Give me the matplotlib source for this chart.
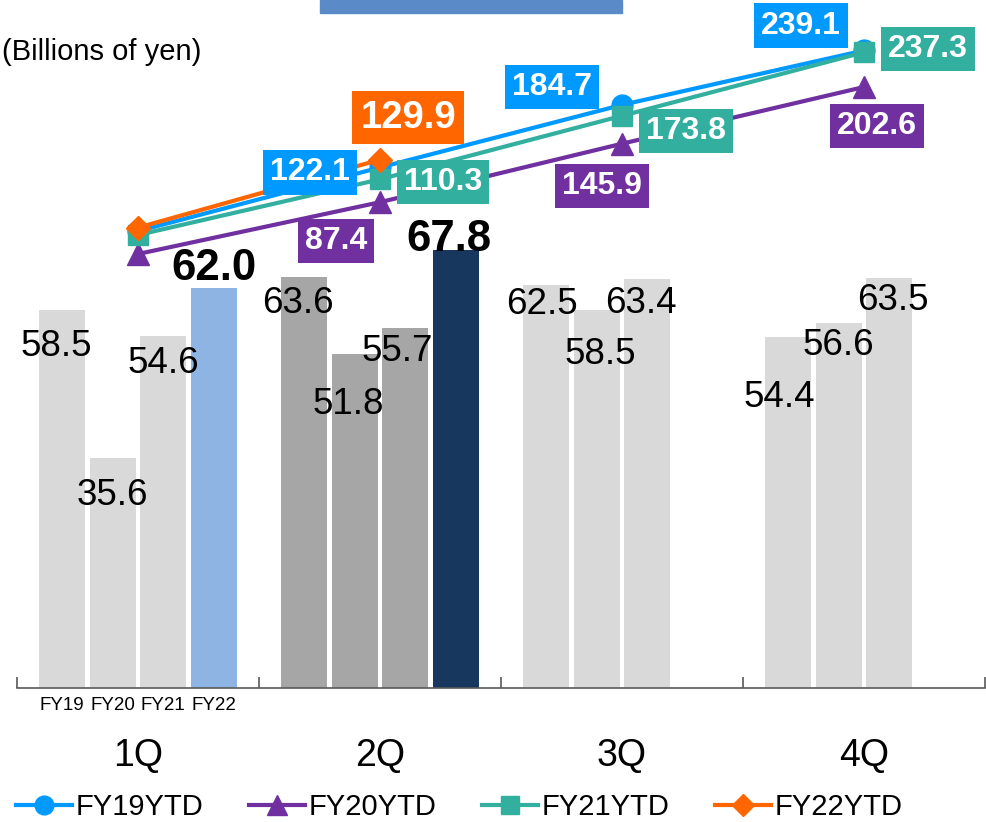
import matplotlib
matplotlib.use("Agg")
from matplotlib import pyplot as plt
from matplotlib.patches import Rectangle

plt.rcParams['font.family'] = ['Liberation Sans', 'DejaVu Sans']

quarters = ['1Q', '2Q', '3Q', '4Q']
years = ['FY19', 'FY20', 'FY21', 'FY22']

# quarterly results, billions of yen
fy19_q = [58.5, 63.6, 62.5, 54.4]
fy20_q = [35.6, 51.8, 58.5, 56.6]
fy21_q = [54.6, 55.7, 63.4, 63.5]
fy22_q = [62.0, 67.8]

# year-to-date totals
fy19_ytd = [58.5, 122.1, 184.7, 239.1]
fy20_ytd = [35.6, 87.4, 145.9, 202.6]
fy21_ytd = [54.6, 110.3, 173.8, 237.3]
fy22_ytd = [62.0, 129.9]

W, H = 987, 822
fig = plt.figure(figsize=(W / 100, H / 100), dpi=100)
ax = fig.add_axes([17 / W, (H - 688) / H, (985 - 17) / W, 688 / H])
ax2 = ax.twinx()

ax.set_xlim(-0.5, 3.5)
ax.set_ylim(0, 688 / 6.455)
ax2.set_ylim(-398.4, 289.6)

step, width = 0.2087, 0.19
grey = ['#D9D9D9', '#A6A6A6', '#D9D9D9', '#D9D9D9']
fy22_col = ['#8EB4E3', '#17375E']

# where each bar's number sits: (dx, dy) in pixels from bar centre / bar top
label_pos = [
    [(-6, 33), (0, 34), (0, 25), (0, -22)],
    [(-6, 23), (-6, 48), (-8, 20), (-7, -14)],
    [(-4, 17), (4, 41), (-6, 22)],
    [(-9, 58), (0, 20), (4, 19)],
]

series_q = [fy19_q, fy20_q, fy21_q, fy22_q]
for i, vals in enumerate(series_q):
    for q, v in enumerate(vals):
        x = q + (i - 1.5) * step
        col = fy22_col[q] if i == 3 else grey[q]
        ax.bar(x, v, width=width, color=col, linewidth=0)
        dx, dy = label_pos[q][i]
        bold = i == 3
        ax.annotate(f'{v:.1f}', xy=(x, v), xytext=(dx, -(dy + 3)),
                    textcoords='offset pixels', ha='center', va='center',
                    fontsize=31.5 if bold else 26.5,
                    fontweight='bold' if bold else 'normal', color='black')

# year names under the first group
for i, y in enumerate(years):
    ax.annotate(y, xy=(0 + (i - 1.5) * step, 0), xytext=(0, -17),
                textcoords='offset pixels', ha='center', va='center',
                fontsize=13.5, annotation_clip=False)

for q, name in enumerate(quarters):
    ax.annotate(name, xy=(q, 0), xytext=(0, -68), textcoords='offset pixels',
                ha='center', va='center', fontsize=27, annotation_clip=False)

# axis: bottom line with inward ticks between quarters
for s in ['top', 'left', 'right']:
    ax.spines[s].set_visible(False)
ax.spines['bottom'].set_color('#595959')
ax.spines['bottom'].set_linewidth(1.2)
ax.set_xticks([-0.5, 0.5, 1.5, 2.5, 3.5])
ax.set_xticklabels([])
ax.tick_params(axis='x', direction='in', length=8, width=1.2, color='#595959')
ax.set_yticks([])
for s in ax2.spines.values():
    s.set_visible(False)
ax2.set_yticks([])

# cumulative lines
lines = [
    ('FY19YTD', fy19_ytd, '#0099FF', 'o', 15),
    ('FY20YTD', fy20_ytd, '#7030A0', '^', 16),
    ('FY21YTD', fy21_ytd, '#33AFA0', 's', 15),
    ('FY22YTD', fy22_ytd, '#FF6600', 'D', 12),
]
handles = []
for name, vals, col, mk, ms in lines:
    h, = ax2.plot(range(len(vals)), vals, color=col, lw=3, marker=mk,
                  markersize=ms, label=name)
    handles.append(h)

ytd_pos = [
    [None, (-70, 5), (-70, -18), (-63, -25)],
    [None, (-44, 39), (-20, 42), (13, 39)],
    [None, (63, 3), (64, 15), (64, -3)],
    [None, (28, -42)],
]
for (name, vals, col, mk, ms), offs in zip(lines, ytd_pos):
    for q, v in enumerate(vals):
        if offs[q] is None:
            continue
        dx, dy = offs[q]
        big = name == 'FY22YTD'
        ax2.annotate(f'{v:.1f}', xy=(q, v), xytext=(dx, -dy),
                     textcoords='offset pixels', ha='center', va='center',
                     fontsize=27.5 if big else 23, fontweight='bold',
                     color='white', zorder=10,
                     bbox=dict(boxstyle='square,pad=0.22', fc=col, ec='none'))

fig.legend(handles=handles, loc='center left',
           bbox_to_anchor=(16 / W, 1 - 807 / H), ncol=4, frameon=False,
           fontsize=21, handlelength=1.92, handletextpad=0.14,
           columnspacing=1.54, borderpad=0, borderaxespad=0, markerscale=0.9)

fig.text(2 / W, 1 - 52 / H, '(Billions of yen)', fontsize=21, va='center')
fig.patches.append(Rectangle((320 / W, 1 - 13 / H), 302 / W, 13 / H,
                             transform=fig.transFigure, color='#5A8AC8'))

fig.savefig('out.png', dpi=100)
